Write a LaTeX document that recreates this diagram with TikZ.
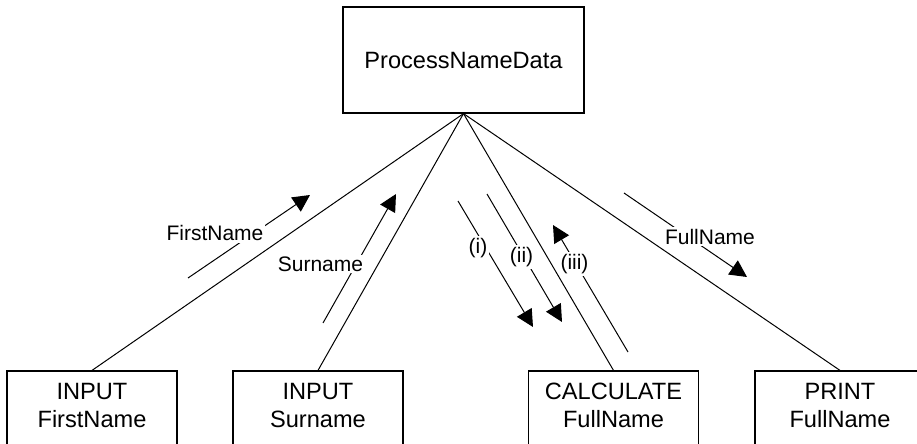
\documentclass[tikz,border=0pt]{standalone}
\usepackage{fontspec}
\setmainfont{Liberation Sans}
\usetikzlibrary{arrows.meta}
\tikzset{module/.style={
    draw,
    line width=0.6pt,
    minimum width=85pt,
    font=\fontsize{11.8pt}{13.5pt}\selectfont}}
\tikzset{lien/.style={
    line width=0.5pt}}
\tikzset{fleche/.style={
    line width=0.5pt,
    -{Triangle[length=8.5pt,width=8.5pt]}}}
\tikzset{etiq/.style={
    fill=white,
    inner sep=1pt,
    font=\fontsize{10.5pt}{12pt}\selectfont}}

\begin{document}
\begin{tikzpicture}[x=0.5pt, y=-0.5pt]

\clip (0,0) rectangle (917,444);

% top module
\node[module,
  minimum height=53pt,
  minimum width=120.5pt] (pnd) at (463.5,60) {ProcessNameData};

% sub modules, cut by the lower edge
\node[module,
  align=center,
  anchor=base,
  inner ysep=0pt,
  text height=28pt,
  text depth=30pt] (inF) at (92,427) {INPUT\\FirstName};

\node[module,
  align=center,
  anchor=base,
  inner ysep=0pt,
  text height=28pt,
  text depth=30pt] (inS) at (318,427) {INPUT\\Surname};

\node[module,
  align=center,
  anchor=base,
  inner ysep=0pt,
  text height=28pt,
  text depth=30pt] (calc) at (613.5,427) {CALCULATE\\FullName};

\node[module,
  align=center,
  anchor=base,
  inner ysep=0pt,
  text height=28pt,
  text depth=30pt] (prt) at (840,427) {PRINT\\FullName};

\draw[lien] (pnd.south) -- (inF.north);
\draw[lien] (pnd.south) -- (inS.north);
\draw[lien] (pnd.south) -- (calc.north);
\draw[lien] (pnd.south) -- (prt.north);

% data flows
\coordinate (F1) at (188,278);
\coordinate (F2) at (310,195);
\coordinate (S1) at (323,323);
\coordinate (S2) at (396,194);
\coordinate (I1) at (458,201);
\coordinate (I2) at (533,327);
\coordinate (II1) at (487,194);
\coordinate (II2) at (562,322);
\coordinate (III1) at (628,352);
\coordinate (III2) at (553,225);
\coordinate (N1) at (624,193);
\coordinate (N2) at (747,277);

\draw[fleche] (F1) -- (F2);
\draw[fleche] (S1) -- (S2);
\draw[fleche] (I1) -- (I2);
\draw[fleche] (II1) -- (II2);
\draw[fleche] (III1) -- (III2);
\draw[fleche] (N1) -- (N2);

\node[etiq] (lF) at (215,233) {FirstName};
\node[etiq] (lS) at (320.5,264) {Surname};
\node[etiq] (lI) at (478,248) {(i)};
\node[etiq] (lII) at (521.5,257) {(ii)};
\node[etiq] (lIII) at (574.5,264) {(iii)};
\node[etiq] (lN) at (710,236.5) {FullName};

\end{tikzpicture}
\end{document}
